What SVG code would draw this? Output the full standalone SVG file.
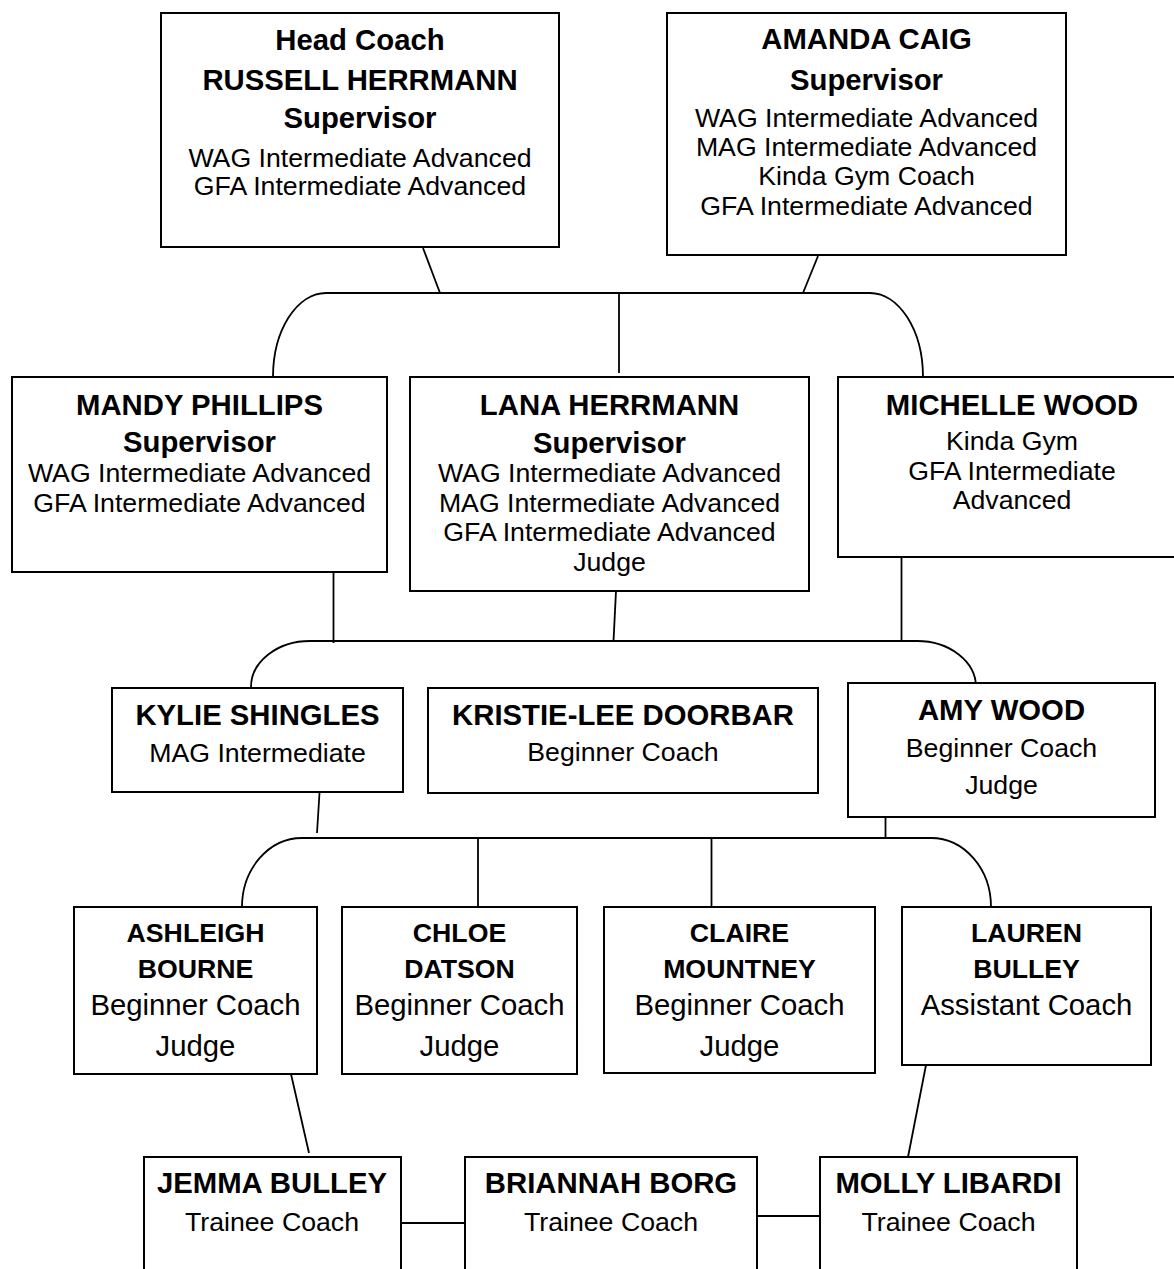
<svg xmlns="http://www.w3.org/2000/svg" width="1174" height="1269" viewBox="0 0 1174 1269">
<style>
  .box { fill: #fff; stroke: #000; stroke-width: 2; }
  .con { fill: none; stroke: #000; stroke-width: 1.8; }
  text { font-family: "Liberation Sans", Arial, sans-serif; text-anchor: middle; fill: #000; }
  .b { font-weight: bold; font-size: 29.3px; }
  .bs { font-weight: bold; font-size: 26.7px; }
  .r { font-size: 26.7px; }
  .rl { font-size: 29.3px; }
</style>
<rect width="1174" height="1269" fill="#fff"/>
<g id="connectors">
  <line class="con" x1="423" y1="248" x2="440" y2="293"/>
  <line class="con" x1="818" y1="256" x2="803" y2="293"/>
  <path class="con" d="M 326 293 L 870 293"/>
  <path class="con" d="M 326 293 A 53 84 0 0 0 273 377"/>
  <path class="con" d="M 870 293 A 53 84 0 0 1 923 377"/>
  <line class="con" x1="619" y1="293" x2="619" y2="373"/>

  <line class="con" x1="333.5" y1="572" x2="333.5" y2="643"/>
  <line class="con" x1="616" y1="591" x2="613.5" y2="641"/>
  <line class="con" x1="901.5" y1="557" x2="901.5" y2="641"/>
  <path class="con" d="M 310 641 L 917 641"/>
  <path class="con" d="M 310 641 A 59 46 0 0 0 251 687"/>
  <path class="con" d="M 917 641 A 59 46 0 0 1 976 687"/>

  <line class="con" x1="319.5" y1="793" x2="317" y2="833"/>
  <line class="con" x1="885.5" y1="817" x2="885.5" y2="838"/>
  <path class="con" d="M 302 838 L 931 838"/>
  <path class="con" d="M 302 838 A 60 69 0 0 0 242 907"/>
  <path class="con" d="M 931 838 A 60 69 0 0 1 991 907"/>
  <line class="con" x1="478" y1="838" x2="478" y2="907"/>
  <line class="con" x1="711.5" y1="838" x2="711.5" y2="907"/>

  <line class="con" x1="291" y1="1074" x2="309" y2="1153"/>
  <line class="con" x1="926" y1="1065" x2="908" y2="1157"/>
  <line class="con" x1="401" y1="1223" x2="465" y2="1223"/>
  <line class="con" x1="757" y1="1216" x2="820" y2="1216"/>
</g>

<g id="russell">
  <rect class="box" x="161" y="13" width="398" height="234"/>
  <text class="b" x="360" y="50">Head Coach</text>
  <text class="b" x="360" y="90">RUSSELL HERRMANN</text>
  <text class="b" x="360" y="128">Supervisor</text>
  <text class="r" x="360" y="167">WAG Intermediate Advanced</text>
  <text class="r" x="360" y="195">GFA Intermediate Advanced</text>
</g>
<g id="amanda">
  <rect class="box" x="667" y="13" width="399" height="242"/>
  <text class="b" x="866.5" y="49">AMANDA CAIG</text>
  <text class="b" x="866.5" y="90">Supervisor</text>
  <text class="r" x="866.5" y="127">WAG Intermediate Advanced</text>
  <text class="r" x="866.5" y="156">MAG Intermediate Advanced</text>
  <text class="r" x="866.5" y="185">Kinda Gym Coach</text>
  <text class="r" x="866.5" y="215">GFA Intermediate Advanced</text>
</g>

<g id="mandy">
  <rect class="box" x="12" y="377" width="375" height="195"/>
  <text class="b" x="199.5" y="415">MANDY PHILLIPS</text>
  <text class="b" x="199.5" y="452">Supervisor</text>
  <text class="r" x="199.5" y="482">WAG Intermediate Advanced</text>
  <text class="r" x="199.5" y="512">GFA Intermediate Advanced</text>
</g>
<g id="lana">
  <rect class="box" x="410" y="377" width="399" height="214"/>
  <text class="b" x="609.5" y="415">LANA HERRMANN</text>
  <text class="b" x="609.5" y="453">Supervisor</text>
  <text class="r" x="609.5" y="482">WAG Intermediate Advanced</text>
  <text class="r" x="609.5" y="512">MAG Intermediate Advanced</text>
  <text class="r" x="609.5" y="541">GFA Intermediate Advanced</text>
  <text class="r" x="609.5" y="571">Judge</text>
</g>
<g id="michelle">
  <rect class="box" x="838" y="377" width="350" height="180"/>
  <text class="b" x="1012" y="415">MICHELLE WOOD</text>
  <text class="r" x="1012" y="450">Kinda Gym</text>
  <text class="r" x="1012" y="480">GFA Intermediate</text>
  <text class="r" x="1012" y="509">Advanced</text>
</g>

<g id="kylie">
  <rect class="box" x="112" y="688" width="291" height="104"/>
  <text class="b" x="257.5" y="725">KYLIE SHINGLES</text>
  <text class="r" x="257.5" y="762">MAG Intermediate</text>
</g>
<g id="kristie">
  <rect class="box" x="428" y="688" width="390" height="105"/>
  <text class="b" x="623" y="725">KRISTIE-LEE DOORBAR</text>
  <text class="r" x="623" y="761">Beginner Coach</text>
</g>
<g id="amy">
  <rect class="box" x="848" y="683" width="307" height="134"/>
  <text class="b" x="1001.5" y="720">AMY WOOD</text>
  <text class="r" x="1001.5" y="757">Beginner Coach</text>
  <text class="r" x="1001.5" y="794">Judge</text>
</g>

<g id="ashleigh">
  <rect class="box" x="74" y="907" width="243" height="167"/>
  <text class="bs" x="195.5" y="942">ASHLEIGH</text>
  <text class="bs" x="195.5" y="978">BOURNE</text>
  <text class="rl" x="195.5" y="1015">Beginner Coach</text>
  <text class="rl" x="195.5" y="1056">Judge</text>
</g>
<g id="chloe">
  <rect class="box" x="342" y="907" width="235" height="167"/>
  <text class="bs" x="459.5" y="942">CHLOE</text>
  <text class="bs" x="459.5" y="978">DATSON</text>
  <text class="rl" x="459.5" y="1015">Beginner Coach</text>
  <text class="rl" x="459.5" y="1056">Judge</text>
</g>
<g id="claire">
  <rect class="box" x="604" y="907" width="271" height="166"/>
  <text class="bs" x="739.5" y="942">CLAIRE</text>
  <text class="bs" x="739.5" y="978">MOUNTNEY</text>
  <text class="rl" x="739.5" y="1015">Beginner Coach</text>
  <text class="rl" x="739.5" y="1056">Judge</text>
</g>
<g id="lauren">
  <rect class="box" x="902" y="907" width="249" height="158"/>
  <text class="bs" x="1026.5" y="942">LAUREN</text>
  <text class="bs" x="1026.5" y="978">BULLEY</text>
  <text class="rl" x="1026.5" y="1015">Assistant Coach</text>
</g>

<g id="jemma">
  <rect class="box" x="144" y="1157" width="257" height="140"/>
  <text class="b" x="272" y="1193">JEMMA BULLEY</text>
  <text class="r" x="272" y="1231">Trainee Coach</text>
</g>
<g id="briannah">
  <rect class="box" x="465" y="1157" width="292" height="140"/>
  <text class="b" x="611" y="1193">BRIANNAH BORG</text>
  <text class="r" x="611" y="1231">Trainee Coach</text>
</g>
<g id="molly">
  <rect class="box" x="820" y="1157" width="257" height="140"/>
  <text class="b" x="948.5" y="1193">MOLLY LIBARDI</text>
  <text class="r" x="948.5" y="1231">Trainee Coach</text>
</g>
</svg>
